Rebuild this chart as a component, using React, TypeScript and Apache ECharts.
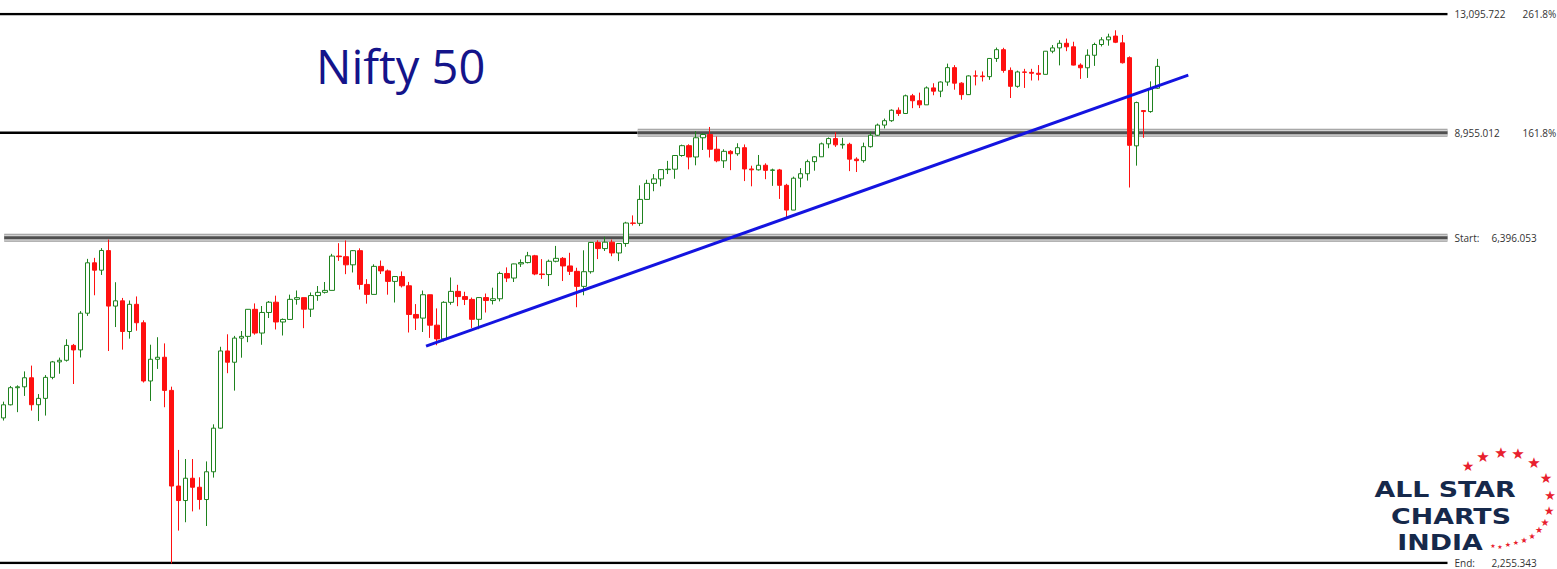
import React, { useEffect, useRef } from "react";
import * as echarts from "echarts";

// Monthly Nifty 50 candles, Oct 2006 .. Jul 2020
const START_YEAR = 2006;
const START_MONTH = 10;
const opens = [
  3590, 3744, 3955, 3966, 4083, 3745, 3822, 4088, 4296, 4318, 4529, 4464, 5021, 5901, 5763,
  6136, 5137, 5224, 4735, 5166, 4870, 4041, 4332, 4360, 3921, 2886, 2755,
  2959, 2875, 2764, 3021, 3474, 4449, 4291, 4636, 4662, 5084, 4712, 5033,
  5201, 4882, 4922, 5249, 5278, 5086, 5313, 5368, 5402, 6030, 6018, 5863,
  6135, 5506, 5333, 5834, 5750, 5560, 5647, 5482, 5001, 4943, 5327, 4832,
  4624, 5199, 5385, 5296, 5248, 4924, 5279, 5229, 5259, 5703, 5620, 5880,
  5905, 6035, 5693, 5683, 5930, 5986, 5842, 5742, 5472, 5735, 6299, 6176,
  6304, 6090, 6277, 6704, 6696, 7230, 7611, 7721, 7954, 7965, 8322, 8588,
  8283, 8809, 8902, 8491, 8182, 8434, 8369, 8533, 7971, 7949, 8066, 7935,
  7946, 7564, 6987, 7738, 7850, 8160, 8288, 8639, 8786, 8611, 8626, 8225,
  8186, 8561, 8880, 9174, 9304, 9621, 9521, 10077, 9918, 9789, 10335, 10227,
  10531, 11028, 10493, 10114, 10739, 10736, 10714, 11357, 11681, 10930, 10387, 10877,
  10863, 10831, 10793, 11624, 11748, 11923, 11789, 11118, 11023, 11474, 11877, 12056,
  12202, 11939, 11387, 8584, 9610, 9580, 10324,
];
const highs = [
  3782, 3977, 3985, 4167, 4245, 3875, 4118, 4309, 4355, 4619, 4550, 5055, 5976, 5995, 6185,
  6357, 5545, 5273, 5230, 5298, 4908, 4539, 4649, 4558, 3968, 3240, 3147,
  3147, 2968, 3123, 3517, 4509, 4693, 4669, 4743, 5087, 5181, 5138, 5221,
  5311, 4937, 5329, 5400, 5278, 5366, 5478, 5549, 6073, 6284, 6339, 6147,
  6181, 5600, 5872, 5944, 5775, 5657, 5740, 5551, 5170, 5399, 5326, 5099,
  5217, 5630, 5499, 5378, 5279, 5286, 5348, 5449, 5735, 5815, 5885, 5965,
  6111, 6053, 5971, 5962, 6229, 6011, 6093, 5808, 6142, 6309, 6342, 6415,
  6358, 6282, 6730, 6869, 7563, 7700, 7841, 7968, 8180, 8330, 8617, 8627,
  8996, 8941, 9119, 8844, 8490, 8467, 8655, 8622, 8055, 8336, 8116, 7979,
  7972, 7600, 7777, 7992, 8213, 8308, 8674, 8819, 8968, 8806, 8669, 8274,
  8672, 8982, 9218, 9367, 9649, 9709, 10115, 10138, 10179, 10384, 10490, 10553,
  11171, 11117, 10525, 10759, 10929, 10893, 11366, 11760, 11752, 11035, 10922, 10985,
  10987, 11119, 11630, 11856, 12041, 12103, 11982, 11181, 11694, 11945, 12158, 12294,
  12430, 12246, 11433, 9890, 9610, 10554, 11341,
];
const lows = [
  3560, 3737, 3657, 3852, 3675, 3554, 3617, 4063, 4136, 4300, 4002, 4357, 4978, 5318, 5676,
  4448, 4803, 4468, 4628, 4747, 4021, 3790, 4200, 3715, 2252, 2502, 2570,
  2661, 2677, 2539, 2965, 3468, 4143, 3918, 4354, 4576, 4687, 4538, 4944,
  4766, 4675, 4922, 5160, 4786, 4961, 5225, 5348, 5403, 5937, 5690, 5721,
  5416, 5177, 5333, 5693, 5328, 5196, 5453, 4720, 4758, 4728, 4639, 4531,
  4588, 5159, 5135, 5154, 4789, 4770, 5032, 5164, 5215, 5548, 5549, 5823,
  5890, 5671, 5604, 5477, 5910, 5566, 5675, 5118, 5318, 5700, 5972, 6129,
  6027, 5933, 6212, 6650, 6638, 7230, 7422, 7540, 7842, 7724, 8290, 7961,
  8065, 8470, 8269, 8144, 7997, 7940, 8315, 7667, 7540, 7930, 7714, 7551,
  7241, 6825, 6987, 7516, 7679, 7927, 8287, 8518, 8555, 8506, 7916, 7893,
  8133, 8537, 8860, 9075, 9269, 9448, 9521, 9685, 9688, 9789, 10094, 10033,
  10405, 10276, 9951, 10111, 10418, 10550, 10605, 11234, 10850, 10005, 10341, 10333,
  10583, 10585, 10793, 11549, 11108, 11625, 11107, 10637, 10671, 11090, 11802, 11832,
  11929, 11175, 7511, 8056, 8807, 9544, 10300,
];
const closes = [
  3744, 3955, 3966, 4083, 3745, 3822, 4088, 4296, 4318, 4529, 4464, 5021, 5901, 5763, 6139,
  5137, 5224, 4735, 5166, 4870, 4041, 4332, 4360, 3921, 2886, 2755, 2959,
  2875, 2764, 3021, 3474, 4449, 4291, 4636, 4662, 5084, 4712, 5033, 5201,
  4882, 4922, 5249, 5278, 5086, 5313, 5368, 5402, 6030, 6018, 5863, 6135,
  5506, 5333, 5834, 5750, 5560, 5647, 5482, 5001, 4943, 5327, 4832, 4624,
  5199, 5385, 5296, 5248, 4924, 5279, 5229, 5259, 5703, 5620, 5880, 5905,
  6035, 5693, 5683, 5930, 5986, 5842, 5742, 5472, 5735, 6299, 6176, 6304,
  6090, 6277, 6704, 6696, 7230, 7611, 7721, 7954, 7965, 8322, 8588, 8283,
  8809, 8902, 8491, 8182, 8434, 8369, 8533, 7971, 7949, 8066, 7935, 7946,
  7564, 6987, 7738, 7850, 8160, 8288, 8639, 8786, 8611, 8626, 8225, 8186,
  8561, 8880, 9174, 9304, 9621, 9521, 10077, 9918, 9789, 10335, 10227, 10531,
  11028, 10493, 10114, 10739, 10736, 10714, 11357, 11681, 10930, 10387, 10877, 10863,
  10831, 10793, 11624, 11748, 11923, 11789, 11118, 11023, 11474, 11877, 12056, 12168,
  11962, 11202, 8598, 9860, 9580, 10302, 11073,
];
const EMPTY_MONTHS_AFTER = 41;

// Fibonacci levels drawn on the chart
const fibLevels = [13095.722, 8955.012, 6396.053, 2255.343];
const fibTags = ["261.8%", "161.8%", "Start:", "End:"];
// index where the highlighted (grey band) part of each level starts; null = no band
const bandStarts = [null, 90.7, 0.1, null];
// rising trend line (month index, price)
const trendX = [60.43, 169.43];
const trendY = [4519, 10769];

const TITLE = "Nifty 50";
const LOGO_LINES = ["ALL STAR", "CHARTS", "INDIA"];

const fmt = (v: number) =>
  v.toLocaleString("en-US", { minimumFractionDigits: 3, maximumFractionDigits: 3 });

export default function App() {
  const ref = useRef<HTMLDivElement>(null);
  useEffect(() => {
    if (!ref.current) return;
    const chart = echarts.init(ref.current, null, { renderer: "svg" });
    const total = opens.length + EMPTY_MONTHS_AFTER;
    const categories = Array.from({ length: total }, (_, i) => {
      const m = START_MONTH - 1 + i;
      return `${START_YEAR + Math.floor(m / 12)}-${String((m % 12) + 1).padStart(2, "0")}`;
    });
    const xMin = -0.5;
    const xMax = total - 0.5;
    const labelColor = "#333333";

    const levelLabel = (i: number) => {
      const tag = fibTags[i];
      const val = fmt(fibLevels[i]);
      if (tag.endsWith("%")) {
        return `{a|${val}}{b|${tag}}`;
      }
      return `{c|${tag}}{b|${val}}`;
    };
    const rich = {
      a: { width: 68, fontSize: 10, color: labelColor, fontFamily: "Open Sans" },
      b: { fontSize: 10, color: labelColor, fontFamily: "Open Sans" },
      c: { width: 37, fontSize: 10, color: labelColor, fontFamily: "Open Sans" },
    };

    const series: any[] = [];
    fibLevels.forEach((lv, i) => {
      const bs = bandStarts[i];
      const blackEnd = bs === null ? xMax : bs;
      if (i !== 2) {
        series.push({
          type: "line",
          xAxisIndex: 1,
          yAxisIndex: 0,
          data: [[xMin, lv], [blackEnd, lv]],
          symbol: "none",
          silent: true,
          z: 1,
          lineStyle: { color: "#000000", width: 2.5, cap: "butt" },
          endLabel: bs === null
            ? { show: true, formatter: () => levelLabel(i), distance: 7, rich }
            : { show: false },
        });
      }
      if (bs !== null) {
        const pts = [[bs, lv], [xMax, lv]];
        series.push({
          type: "line", xAxisIndex: 1, yAxisIndex: 0, data: pts, symbol: "none", silent: true, z: 2,
          lineStyle: { color: "#9a9a9a", width: 8, cap: "butt" },
          endLabel: { show: true, formatter: () => levelLabel(i), distance: 7, rich },
        });
        series.push({
          type: "line", xAxisIndex: 1, yAxisIndex: 0, data: pts, symbol: "none", silent: true, z: 3,
          lineStyle: { color: "#d2d2d2", width: 6, cap: "butt" },
        });
        series.push({
          type: "line", xAxisIndex: 1, yAxisIndex: 0, data: pts, symbol: "none", silent: true, z: 4,
          lineStyle: { color: "#505050", width: 3, cap: "butt" },
        });
      }
    });

    series.push({
      type: "candlestick",
      xAxisIndex: 0,
      yAxisIndex: 0,
      z: 5,
      barWidth: 5,
      data: opens.map((o, i) => [o, closes[i], lows[i], highs[i]]),
      itemStyle: {
        color: "#ffffff",
        color0: "#ff1010",
        borderColor: "#1e821e",
        borderColor0: "#ff1010",
        borderWidth: 1,
      },
    });

    series.push({
      type: "line",
      xAxisIndex: 1,
      yAxisIndex: 0,
      z: 8,
      symbol: "none",
      silent: true,
      data: trendX.map((x, i) => [x, trendY[i]]),
      lineStyle: { color: "#1414e0", width: 3 },
    });

    const starPos: [number, number, number][] = [
      [1468, 466, 14], [1483, 457, 15], [1501, 453, 15], [1518, 454, 15], [1534, 463, 15],
      [1546, 478, 14], [1550, 495, 13], [1549, 511, 12], [1545, 522, 10], [1539, 530, 9],
      [1532, 536, 8], [1524, 540, 8], [1516, 543, 7], [1508, 545, 7], [1500, 546, 6], [1493, 545, 6],
    ];
    const logoX = [1445, 1451, 1440];
    const logoY = [489, 516, 542];

    chart.setOption({
      animation: false,
      backgroundColor: "#ffffff",
      grid: { left: -1.5, top: 14, width: total * 7, height: 549, containLabel: false },
      xAxis: [
        { type: "category", data: categories, show: false, boundaryGap: true },
        { type: "value", min: xMin, max: xMax, show: false },
      ],
      yAxis: [
        { type: "log", min: fibLevels[3], max: fibLevels[0], show: false, logBase: 10 },
      ],
      series,
      graphic: [
        {
          type: "text",
          left: 316,
          top: 42,
          style: { text: TITLE, fill: "#14148a", font: "47px 'Open Sans'" },
        },
        ...LOGO_LINES.map((t, i) => ({
          type: "text",
          x: logoX[i],
          y: logoY[i],
          scaleX: 1.22,
          style: {
            text: t,
            fill: "#16294b",
            font: "bold 22px 'DejaVu Sans'",
            lineHeight: 22,
            textAlign: "center",
            textVerticalAlign: "middle",
          },
        })),
        ...starPos.map(([x, y, s]) => ({
          type: "text",
          x,
          y,
          style: {
            text: "★",
            fill: "#e8202e",
            font: `${s}px 'DejaVu Sans'`,
            lineHeight: s,
            textAlign: "center",
            textVerticalAlign: "middle",
          },
        })),
      ],
    });
    return () => chart.dispose();
  }, []);
  return (
    <div
      ref={ref}
      style={{ position: "fixed", left: 0, top: 0, width: 1557, height: 569, background: "#fff" }}
    />
  );
}
